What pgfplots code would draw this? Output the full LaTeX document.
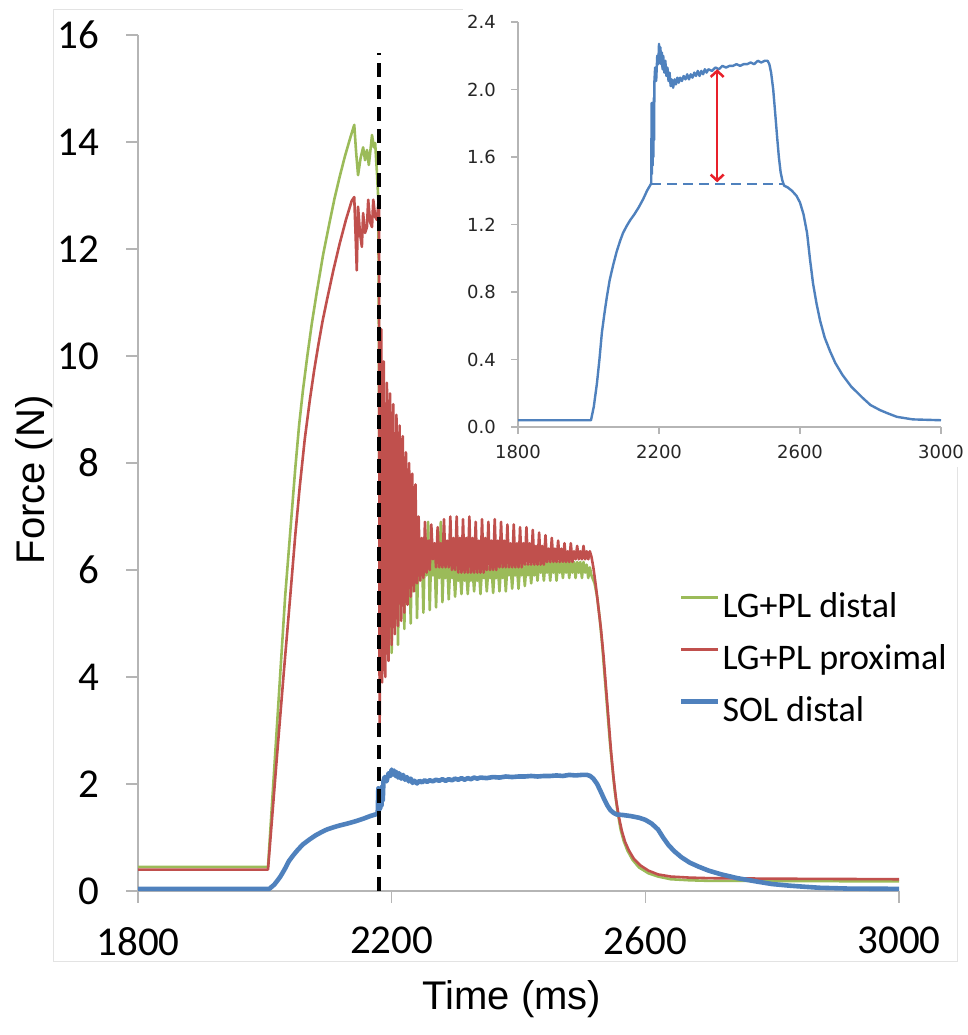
\documentclass[border=0pt]{standalone}
\usepackage{fontspec}
\setmainfont{Carlito}
\newfontfamily\arialfont{Liberation Sans}
\newfontfamily\verdanafont{DejaVu Sans}
\usepackage{pgfplots}
\pgfplotsset{compat=1.18}
\usepackage{pgfplotstable}
\usetikzlibrary{arrows.meta}

\definecolor{lggreen}{HTML}{9BBB59}
\definecolor{lgred}{HTML}{C0504D}
\definecolor{solblue}{HTML}{4F81BD}
\definecolor{axisgray}{HTML}{B5B5B5}
\definecolor{framegray}{HTML}{E3E3E3}
\definecolor{arrowred}{HTML}{E8202A}

\begin{document}

% LG+PL distal
\pgfplotstableread[row sep=\\]{
x y\\
1800 0.45\\ 2005 0.45\\ 2016 2.5\\ 2032 5.5\\ 2042 7.0\\ 2048 7.9\\ 2054 8.7\\ 2060 9.35\\ 2067 10.0\\
2074 10.6\\ 2082 11.2\\ 2092 11.9\\ 2103 12.55\\ 2110 12.95\\ 2118 13.35\\ 2126 13.72\\ 2134 14.05\\
2141 14.32\\ 2144 13.8\\ 2147 13.38\\
2151 13.7\\ 2155 13.9\\ 2158 13.66\\ 2161 13.85\\ 2164 13.57\\ 2167 13.9\\ 2169 14.13\\ 2172 13.9\\
2174 13.98\\ 2177 13.38\\ 2179 12.9\\ 2180.5 8.0\\ 2181 4.3\\
2182.5 8.5\\ 2185 4.3\\ 2187.5 8.3\\ 2190 6.0\\ 2192.5 8.1\\ 2195 4.4\\ 2197.5 7.9\\
2200 4.45\\ 2202.5 7.7\\ 2205 6.0\\ 2207.5 7.5\\ 2210 4.6\\ 2212.5 7.3\\ 2215 5.8\\ 2217.5 7.15\\
2220 4.9\\ 2222.5 7.0\\ 2225 5.9\\ 2227.5 6.9\\ 2230 5.0\\ 2232.5 6.8\\ 2235 5.9\\ 2237.5 6.7\\
2240 5.1\\ 2242.5 6.6\\ 2245 5.9\\ 2247.5 6.5\\ 2250 5.2\\ 2252.5 6.45\\ 2255 5.9\\ 2257.5 6.9\\
2260 5.25\\ 2262.5 6.4\\ 2265 5.9\\ 2267.5 6.35\\ 2270 5.3\\ 2272.5 6.3\\ 2275 5.85\\ 2277.5 6.9\\
2280 5.4\\ 2282.5 6.25\\ 2285 5.85\\ 2287.5 6.2\\ 2290 5.45\\ 2292.5 6.15\\ 2295 5.85\\ 2297.5 6.1\\
2300 5.5\\ 2302.5 6.05\\ 2305 5.8\\ 2307.5 6.05\\ 2310 5.55\\ 2312.5 6.05\\ 2315 5.8\\ 2317.5 6.0\\
2320 5.55\\ 2322.5 6.05\\ 2325 5.8\\ 2327.5 6.05\\ 2330 5.6\\ 2332.5 6.05\\ 2335 5.8\\ 2337.5 6.05\\
2340 5.55\\ 2342.5 6.05\\ 2345 5.85\\ 2347.5 6.05\\ 2350 5.6\\ 2352.5 6.05\\ 2355 5.85\\ 2357.5 6.05\\
2360 5.57\\ 2362.5 6.05\\ 2365 5.85\\ 2367.5 6.05\\ 2370 5.6\\ 2372.5 6.1\\ 2375 5.85\\ 2377.5 6.1\\
2380 5.6\\ 2382.5 6.1\\ 2385 5.9\\ 2387.5 6.1\\ 2390 5.65\\ 2392.5 6.1\\ 2395 5.9\\ 2397.5 6.1\\
2400 5.65\\ 2402.5 6.1\\ 2405 5.9\\ 2407.5 6.1\\ 2410 5.7\\ 2412.5 6.1\\ 2415 5.9\\ 2417.5 6.1\\
2420 5.75\\ 2422.5 6.1\\ 2425 5.9\\ 2427.5 6.1\\ 2430 5.8\\ 2432.5 6.15\\ 2435 5.95\\ 2437.5 6.15\\
2440 5.8\\ 2442.5 6.15\\ 2445 5.95\\ 2447.5 6.15\\ 2450 5.8\\ 2452.5 6.15\\ 2455 5.95\\ 2457.5 6.15\\
2460 5.8\\ 2462.5 6.15\\ 2465 5.95\\ 2467.5 6.15\\ 2470 5.85\\ 2472.5 6.15\\ 2475 5.95\\ 2477.5 6.15\\
2480 5.85\\ 2482.5 6.15\\ 2485 5.95\\ 2487.5 6.15\\ 2490 5.85\\ 2492.5 6.15\\ 2495 5.95\\ 2497.5 6.15\\
2500 5.85\\ 2502.5 6.15\\ 2505 5.95\\ 2507.5 6.1\\ 2510 5.85\\ 2512.5 6.05\\ 2515 5.9\\
2520 5.75\\ 2524 5.5\\ 2528 5.1\\ 2532 4.6\\ 2536 4.0\\ 2540 3.4\\ 2544 2.8\\ 2548 2.3\\ 2552 1.85\\
2556 1.5\\ 2561 1.15\\ 2566 0.93\\ 2572 0.75\\ 2580 0.58\\ 2590 0.44\\ 2605 0.33\\ 2620 0.27\\
2640 0.22\\ 2670 0.2\\ 2700 0.19\\ 3000 0.18\\
}\greentab

% LG+PL proximal
\pgfplotstableread[row sep=\\]{
x y\\
1800 0.40\\ 2005 0.40\\ 2012 1.45\\ 2019 2.5\\ 2030 4.1\\ 2040 5.5\\ 2048 6.65\\ 2055 7.55\\ 2063 8.45\\
2071 9.18\\ 2078 9.75\\ 2085 10.25\\ 2091 10.65\\ 2098 11.05\\ 2108 11.6\\ 2118 12.1\\ 2128 12.55\\
2137 12.9\\ 2141 12.97\\ 2143 12.3\\ 2145 11.6\\
2147 12.79\\ 2150 12.3\\ 2153 12.04\\ 2155 12.67\\ 2158 12.3\\ 2161 12.41\\ 2163 12.92\\ 2166 12.5\\
2169 12.41\\ 2171 12.92\\ 2174 12.6\\ 2177 12.54\\ 2179 12.86\\ 2180 12.8\\ 2181 2.9\\
2183.5 10.5\\ 2185 3.9\\ 2187.5 9.9\\ 2190 4.0\\ 2192.5 9.5\\ 2195 4.3\\ 2197.5 9.3\\
2200 4.6\\ 2202.5 9.1\\ 2205 4.8\\ 2207.5 8.9\\ 2210 4.95\\ 2212.5 8.7\\ 2215 5.05\\ 2217.5 8.5\\
2220 5.2\\ 2222.5 8.2\\ 2225 5.35\\ 2227.5 8.0\\ 2230 5.5\\ 2232.5 7.8\\ 2235 5.6\\ 2237.5 7.6\\
2240 5.75\\ 2242.5 7.0\\ 2245 5.8\\ 2247.5 6.6\\ 2250 5.85\\ 2252.5 6.9\\ 2255 5.95\\ 2257.5 6.55\\
2260 6.0\\ 2262.5 6.85\\ 2265 6.2\\ 2267.5 6.5\\ 2270 6.05\\ 2272.5 6.8\\ 2275 6.05\\ 2277.5 6.5\\
2280 6.05\\ 2282.5 6.95\\ 2285 6.05\\ 2287.5 6.55\\ 2290 6.05\\ 2292.5 7.0\\ 2295 6.0\\ 2297.5 6.6\\
2300 6.0\\ 2302.5 7.0\\ 2305 5.95\\ 2307.5 6.6\\ 2310 5.95\\ 2312.5 6.95\\ 2315 5.95\\ 2317.5 6.6\\
2320 5.95\\ 2322.5 7.0\\ 2325 5.95\\ 2327.5 6.6\\ 2330 5.95\\ 2332.5 6.9\\ 2335 5.95\\ 2337.5 6.55\\
2340 5.95\\ 2342.5 6.95\\ 2345 5.95\\ 2347.5 6.6\\ 2350 6.0\\ 2352.5 6.9\\ 2355 6.0\\ 2357.5 6.55\\
2360 6.0\\ 2362.5 6.95\\ 2365 6.0\\ 2367.5 6.55\\ 2370 6.05\\ 2372.5 6.9\\ 2375 6.05\\ 2377.5 6.55\\
2380 6.05\\ 2382.5 6.85\\ 2385 6.05\\ 2387.5 6.5\\ 2390 6.05\\ 2392.5 6.85\\ 2395 6.05\\ 2397.5 6.5\\
2400 6.05\\ 2402.5 6.8\\ 2405 6.05\\ 2407.5 6.5\\ 2410 6.1\\ 2412.5 6.8\\ 2415 6.1\\ 2417.5 6.5\\
2420 6.1\\ 2422.5 6.75\\ 2425 6.1\\ 2427.5 6.45\\ 2430 6.1\\ 2432.5 6.7\\ 2435 6.1\\ 2437.5 6.45\\
2440 6.1\\ 2442.5 6.65\\ 2445 6.15\\ 2447.5 6.4\\ 2450 6.15\\ 2452.5 6.6\\ 2455 6.15\\ 2457.5 6.4\\
2460 6.15\\ 2462.5 6.55\\ 2465 6.15\\ 2467.5 6.4\\ 2470 6.15\\ 2472.5 6.5\\ 2475 6.15\\ 2477.5 6.35\\
2480 6.15\\ 2482.5 6.5\\ 2485 6.15\\ 2487.5 6.35\\ 2490 6.2\\ 2492.5 6.45\\ 2495 6.2\\ 2497.5 6.35\\
2500 6.2\\ 2502.5 6.45\\ 2505 6.2\\ 2507.5 6.35\\ 2510 6.2\\ 2512.5 6.35\\ 2515 6.25\\
2518 6.05\\ 2522 5.7\\ 2526 5.3\\ 2530 4.9\\ 2534 4.4\\ 2538 3.8\\ 2542 3.2\\ 2546 2.6\\ 2550 2.1\\
2554 1.7\\ 2558 1.4\\ 2563 1.12\\ 2568 0.92\\ 2574 0.76\\ 2582 0.6\\ 2592 0.48\\ 2605 0.38\\
2620 0.31\\ 2640 0.27\\ 2670 0.25\\ 2700 0.24\\ 2800 0.23\\ 3000 0.22\\
}\redtab

% SOL distal
\pgfplotstableread[row sep=\\]{
x y\\
1800 0.04\\ 2007 0.04\\ 2015 0.12\\ 2024 0.26\\ 2031 0.40\\ 2038 0.56\\ 2045 0.67\\ 2052 0.77\\
2060 0.87\\ 2070 0.96\\ 2080 1.04\\ 2090 1.105\\ 2098 1.15\\ 2108 1.19\\ 2118 1.225\\ 2130 1.26\\
2142 1.30\\ 2155 1.35\\
2166 1.40\\ 2177 1.44\\ 2178 1.45\\ 2179 1.92\\ 2180 1.5\\ 2181 1.85\\ 2182 1.55\\ 2183 1.9\\
2184 1.6\\ 2185 1.95\\ 2186 1.7\\ 2187 2.05\\ 2189 2.13\\ 2192 2.05\\ 2195 2.2\\ 2198 2.15\\
2200 2.27\\ 2202 2.18\\ 2204 2.25\\ 2206 2.15\\ 2208 2.22\\ 2210 2.12\\ 2212 2.2\\ 2215 2.1\\
2218 2.17\\ 2221 2.08\\ 2224 2.13\\ 2227 2.05\\ 2230 2.1\\ 2233 2.02\\ 2236 2.06\\ 2240 2.01\\
2244 2.06\\ 2248 2.03\\ 2252 2.07\\ 2256 2.04\\ 2260 2.07\\ 2265 2.05\\ 2270 2.08\\ 2275 2.06\\
2280 2.09\\ 2285 2.06\\ 2290 2.09\\ 2295 2.07\\ 2300 2.1\\ 2305 2.08\\ 2310 2.11\\ 2315 2.08\\
2320 2.11\\ 2325 2.09\\ 2330 2.12\\ 2335 2.1\\ 2340 2.12\\ 2350 2.11\\ 2360 2.13\\ 2370 2.12\\
2380 2.14\\ 2390 2.13\\ 2400 2.14\\ 2410 2.14\\ 2420 2.15\\ 2430 2.14\\ 2440 2.15\\ 2450 2.15\\
2460 2.16\\ 2470 2.15\\ 2480 2.17\\ 2490 2.16\\ 2500 2.17\\ 2508 2.17\\ 2513 2.15\\ 2518 2.1\\
2524 2.0\\ 2530 1.85\\ 2535 1.72\\ 2540 1.6\\ 2545 1.51\\ 2550 1.46\\ 2555 1.43\\ 2565 1.42\\
2577 1.40\\ 2590 1.37\\ 2600 1.33\\ 2610 1.26\\ 2620 1.15\\ 2628 1.0\\ 2637 0.85\\ 2647 0.73\\
2657 0.63\\ 2670 0.53\\ 2685 0.45\\ 2700 0.38\\ 2720 0.31\\ 2745 0.24\\ 2779 0.17\\ 2800 0.13\\
2827 0.1\\ 2850 0.08\\ 2875 0.06\\ 2920 0.045\\ 3000 0.04\\
}\bluetab

\begin{tikzpicture}[x=1pt,y=1pt]
\path[use as bounding box] (0,0) rectangle (968,1035);
\draw[framegray, line width=1pt] (53,73) rectangle (957,1025);
\fill[white] (463,568) rectangle (968,1035);

\begin{axis}[
  at={(138pt,144pt)}, anchor=south west,
  scale only axis, width=761pt, height=856pt,
  xmin=1800, xmax=3000, ymin=0, ymax=16,
  axis x line*=bottom, axis y line*=left,
  axis line style={draw=axisgray, line width=1.3pt, -},
  xtick={1800,2200,2600,3000}, ytick={0,2,...,16},
  tick align=outside, major tick length=12pt,
  tick style={draw=axisgray, line width=1.3pt},
  tick label style={font=\fontsize{41}{41}\selectfont, inner sep=0pt},
  xticklabel style={yshift=-24pt}, yticklabel style={xshift=-27pt},
  /pgf/number format/assume math mode=true,
  /pgf/number format/1000 sep={},
  scaled ticks=false,
  clip=false,
  legend cell align=left,
  legend image code/.code={\draw[#1] (0pt,11pt) -- (37pt,11pt);},
  legend style={at={(0.7,0.355)}, anchor=north west, draw=none, fill=white,
    font=\fontsize{36}{36}\selectfont, inner xsep=8pt, inner ysep=4pt,
    row sep=18pt, column sep=2pt,
    nodes={inner sep=0pt, text height=26pt, text depth=8pt}},
]
\addplot[lggreen, line width=2.6pt, line join=round] table {\greentab};
\addlegendentry{LG+PL distal}
\addplot[lgred, line width=2.6pt, line join=round] table {\redtab};
\addlegendentry{LG+PL proximal}
\addplot[solblue, line width=4.6pt, line join=round] table {\bluetab};
\addlegendentry{SOL distal}
\addplot[black, line width=3.4pt, dash pattern=on 14pt off 8pt, forget plot]
  coordinates {(2180,0) (2180,15.66)};
\end{axis}

\begin{axis}[
  at={(518pt,608pt)}, anchor=south west,
  scale only axis, width=423pt, height=405pt,
  xmin=1800, xmax=3000, ymin=0, ymax=2.4,
  axis x line*=bottom, axis y line*=left,
  axis line style={draw=axisgray, line width=1.2pt, -},
  xtick={1800,2200,2600,3000}, ytick={0,0.4,...,2.4},
  tick align=outside, major tick length=7pt,
  tick style={draw=axisgray, line width=1.2pt},
  tick label style={font=\verdanafont\fontsize{18}{18}\selectfont, inner sep=0pt, text=black!85},
  xticklabel style={yshift=-11pt}, yticklabel style={xshift=-15pt,
    /pgf/number format/.cd, fixed, fixed zerofill, precision=1},
  /pgf/number format/assume math mode=true,
  /pgf/number format/1000 sep={},
  scaled ticks=false,
]
\addplot[solblue, line width=2.4pt, line join=round] table {\bluetab};
\addplot[solblue, line width=2pt, dash pattern=on 10pt off 6pt]
  coordinates {(2178,1.44) (2552,1.44)};
\addplot[arrowred, line width=2.5pt,
  arrows={Straight Barb[length=6pt,width=13pt]-Straight Barb[length=6pt,width=13pt]}]
  coordinates {(2365,1.45) (2365,2.12)};
\end{axis}

\node[rotate=90, anchor=base, font=\arialfont\fontsize{40}{40}\selectfont] at (44,555) {Force (N)};
\node[anchor=base, font=\arialfont\fontsize{40}{40}\selectfont] at (512,25) {Time (ms)};
\end{tikzpicture}
\end{document}
